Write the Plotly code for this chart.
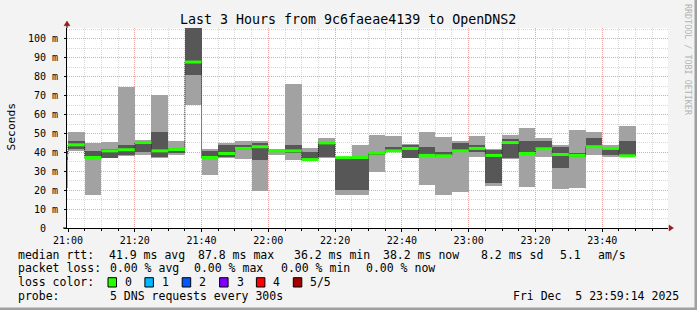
import plotly.graph_objects as go
import pandas as pd

DAY = "2025-12-05 "

# 5-minute slots (start times) and the five sorted DNS round-trip times (ms)
slot_start = ["20:55", "21:00", "21:05", "21:10", "21:15", "21:20", "21:25", "21:30",
              "21:35", "21:40", "21:45", "21:50", "21:55", "22:00", "22:05", "22:10",
              "22:15", "22:20", "22:25", "22:30", "22:35", "22:40", "22:45", "22:50",
              "22:55", "23:00", "23:05", "23:10", "23:15", "23:20", "23:25", "23:30",
              "23:35", "23:40", "23:45"]
ping_min = [21.1, 40.5, 17.6, 37.0, 38.2, 38.4, 37.0, 38.8, 65.1, 28.2, 37.2, 36.6,
            19.4, 38.4, 36.1, 36.0, 36.9, 17.2, 17.2, 29.4, 40.4, 36.8, 22.9, 17.2,
            18.8, 37.8, 22.4, 36.7, 21.5, 37.8, 20.8, 21.3, 38.4, 37.3, 38.0]
ping_p2 = [36.1, 41.9, 36.8, 37.1, 38.4, 40.0, 37.3, 39.5, 81.0, 37.0, 37.3, 41.3,
           36.1, 40.3, 39.6, 36.1, 37.5, 19.9, 20.2, 38.4, 40.5, 36.9, 38.0, 37.8,
           40.5, 40.0, 23.6, 36.9, 38.4, 41.5, 31.5, 37.5, 43.0, 38.4, 38.2]
ping_med = [38.5, 44.0, 37.3, 40.8, 41.4, 45.2, 40.8, 41.5, 87.8, 37.3, 39.4, 42.1,
            43.0, 40.8, 40.8, 36.2, 45.0, 37.2, 37.3, 39.6, 40.8, 42.1, 38.4, 38.2,
            40.8, 42.1, 38.4, 45.2, 39.4, 41.9, 38.9, 38.4, 43.0, 42.1, 38.2]
ping_p4 = [40.8, 46.1, 40.8, 41.9, 44.0, 46.1, 50.9, 42.3, 110.0, 40.8, 44.0, 44.0,
           45.2, 41.0, 44.0, 40.3, 45.3, 37.3, 37.5, 40.3, 43.0, 44.0, 43.0, 40.3,
           45.2, 44.0, 41.4, 47.2, 46.1, 46.1, 43.0, 39.5, 47.7, 42.2, 46.1]
ping_max = [40.9, 50.9, 45.2, 45.6, 74.7, 46.6, 70.4, 46.1, 130.0, 41.9, 45.2, 46.1,
            46.1, 41.9, 76.2, 42.2, 47.7, 37.5, 44.0, 49.3, 48.8, 44.2, 50.9, 48.2,
            46.1, 48.8, 41.6, 49.3, 53.0, 47.7, 44.0, 51.9, 50.9, 44.0, 54.0]

x_ticks = ["21:00", "21:20", "21:40", "22:00", "22:20", "22:40", "23:00", "23:20", "23:40"]
y_ticks = [0, 10, 20, 30, 40, 50, 60, 70, 80, 90, 100]
y_ticktext = ["0\u00a0\u00a0"] + [f"{v} m" for v in y_ticks[1:]]

loss_labels = ["0", "1", "2", "3", "4", "5/5"]
loss_colors = ["#26ff00", "#00b8ff", "#0059ff", "#7e00ff", "#ff0000", "#a10000"]

FONT = "DejaVu Sans Mono"
STEP_MS = 5 * 60 * 1000

starts = [pd.Timestamp(DAY + s) for s in slot_start]
ends = [t + pd.Timedelta(minutes=5) for t in starts]
fmt = lambda t: t.strftime("%Y-%m-%d %H:%M:%S")
xs = [fmt(t) for t in starts]

fig = go.Figure()
# outer smoke band (min..max)
fig.add_trace(go.Bar(x=xs, base=ping_min, y=[b - a for a, b in zip(ping_min, ping_max)],
                     width=STEP_MS, offset=0, marker=dict(color="#a2a2a2", line=dict(width=0)),
                     hoverinfo="skip", showlegend=False))
# inner smoke band (2nd..4th)
fig.add_trace(go.Bar(x=xs, base=ping_p2, y=[b - a for a, b in zip(ping_p2, ping_p4)],
                     width=STEP_MS, offset=0, marker=dict(color="#575757", line=dict(width=0)),
                     hoverinfo="skip", showlegend=False))
# thin step connector of the median
fig.add_trace(go.Scatter(x=xs + [fmt(ends[-1])], y=ping_med + [ping_med[-1]], mode="lines",
                         line=dict(shape="hv", color="#202020", width=1, dash="1px,1px"),
                         hoverinfo="skip", showlegend=False))
# median segments coloured by loss
mx, my = [], []
for s, e, m in zip(starts, ends, ping_med):
    mx += [fmt(s), fmt(e), None]
    my += [m, m, None]
fig.add_trace(go.Scatter(x=mx, y=my, mode="lines", line=dict(color=loss_colors[0], width=3),
                         hoverinfo="skip", showlegend=False))

L, R, T, B = 67, 29, 28, 82
W, H = 697, 310
PW, PH = W - L - R, H - T - B
px = lambda x: (x - L) / PW
py = lambda y: (H - B - y) / PH

grid_major = "#eba3a3"
grid_minor = "#d6d6d6"

fig.update_layout(
    width=W, height=H, margin=dict(l=L, r=R, t=T, b=B, pad=0),
    paper_bgcolor="#f3f3f3", plot_bgcolor="#ffffff",
    barmode="overlay", bargap=0, showlegend=False,
    font=dict(family=FONT, color="#000000"),
)
fig.update_xaxes(
    type="date", range=[DAY + "20:59:42", DAY + "23:59:42"],
    tickvals=[DAY + t for t in x_ticks], ticktext=x_ticks,
    tickfont=dict(family=FONT, size=10, color="#000000"),
    showline=True, linecolor="#000000", linewidth=1,
    ticks="outside", ticklen=3, tickcolor="#000000", tickwidth=1,
    showgrid=True, gridcolor=grid_major, griddash="1px,1px", gridwidth=1,
    minor=dict(dtick=STEP_MS, tick0=DAY + "21:00", showgrid=True, gridcolor=grid_minor,
               griddash="1px,1px", ticks="outside", ticklen=2, tickcolor="#000000"),
    zeroline=False, fixedrange=True,
)
fig.update_yaxes(
    range=[0, 105.8], tickvals=y_ticks, ticktext=y_ticktext,
    tickfont=dict(family=FONT, size=10, color="#000000"),
    showline=True, linecolor="#000000", linewidth=1,
    ticks="outside", ticklen=2, tickcolor="#000000",
    ticklabelstandoff=4,
    showgrid=True, gridcolor=grid_major, griddash="1px,1px", gridwidth=1,
    minor=dict(dtick=5, tick0=0, showgrid=True, gridcolor=grid_minor, griddash="1px,1px"),
    zeroline=False, fixedrange=True,
)

ann = []
def text(x, y, s, size=11.5, anchor="left", color="#000000", angle=0):
    ann.append(dict(x=px(x), y=py(y), xref="paper", yref="paper", text=s, showarrow=False,
                    xanchor=anchor, yanchor="middle", textangle=angle,
                    font=dict(family=FONT, size=size, color=color)))

text(348, 19.5, "Last 3 Hours from 9c6faeae4139 to OpenDNS2", size=13.3, anchor="center")
text(10.5, 127, "Seconds", size=11.3, anchor="center", angle=-90)
text(688, 60, "RRDTOOL / TOBI OETIKER", size=8.4, anchor="center", color="#b4b4b4", angle=90)

row1 = [(16, "median rtt:"), (106.7, "41.9 ms avg"), (195.6, "87.8 ms max"), (292.4, "36.2 ms min"),
        (381.3, "38.2 ms now"), (479.1, "8.2 ms sd"), (557.8, "5.1"), (595.6, "am/s")]
row2 = [(16, "packet loss:"), (107.6, "0.00 % avg"), (192.4, "0.00 % max"), (279.1, "0.00 % min"),
        (364.4, "0.00 % now")]
for x, s in row1:
    text(x, 254.5, s)
for x, s in row2:
    text(x, 268.3, s)
text(16, 282.3, "loss color:")
box_x = [108, 144.9, 182.2, 219.6, 256.4, 293.3]
shapes = []
for bx, lab, col in zip(box_x, loss_labels, loss_colors):
    shapes.append(dict(type="rect", xref="paper", yref="paper", x0=px(bx), x1=px(bx + 8.5),
                       y0=py(287), y1=py(277.7), fillcolor=col, line=dict(color="#000000", width=1)))
    text(bx + 15, 282.3, lab)
text(16, 296, "probe:")
text(107.6, 296, "5 DNS requests every 300s")
text(680.5, 296, "Fri Dec  5 23:59:14 2025", anchor="right")

# axis arrows
arrow = "#9b1b1b"
shapes.append(dict(type="path", xref="paper", yref="paper", xsizemode="pixel", ysizemode="pixel",
                   xanchor=0, yanchor=1, path="M -3,2.3 L 3,2.3 L 0,7 Z",
                   fillcolor=arrow, line=dict(color=arrow, width=0.5)))
shapes.append(dict(type="line", xref="paper", yref="paper", xsizemode="pixel", ysizemode="pixel",
                   xanchor=0, yanchor=1, x0=0, x1=0, y0=0, y1=2.5, line=dict(color="#000000", width=1)))
shapes.append(dict(type="path", xref="paper", yref="paper", xsizemode="pixel", ysizemode="pixel",
                   xanchor=1, yanchor=0, path="M 1,-3 L 1,3 L 5.5,0 Z",
                   fillcolor=arrow, line=dict(color=arrow, width=0.5)))
shapes.append(dict(type="line", xref="paper", yref="paper", xsizemode="pixel", ysizemode="pixel",
                   xanchor=0, yanchor=0, x0=-4, x1=0, y0=0, y1=0, line=dict(color="#000000", width=1)))
# frame edges
shapes.append(dict(type="rect", xref="paper", yref="paper", x0=px(0), x1=px(697), y0=py(310), y1=py(307.5),
                   fillcolor="#a0a0a0", line=dict(width=0), layer="above"))
shapes.append(dict(type="rect", xref="paper", yref="paper", x0=px(694.5), x1=px(697), y0=py(310), y1=py(0),
                   fillcolor="#a0a0a0", line=dict(width=0), layer="above"))

fig.update_layout(annotations=ann, shapes=shapes)
fig.write_html("out.html")
